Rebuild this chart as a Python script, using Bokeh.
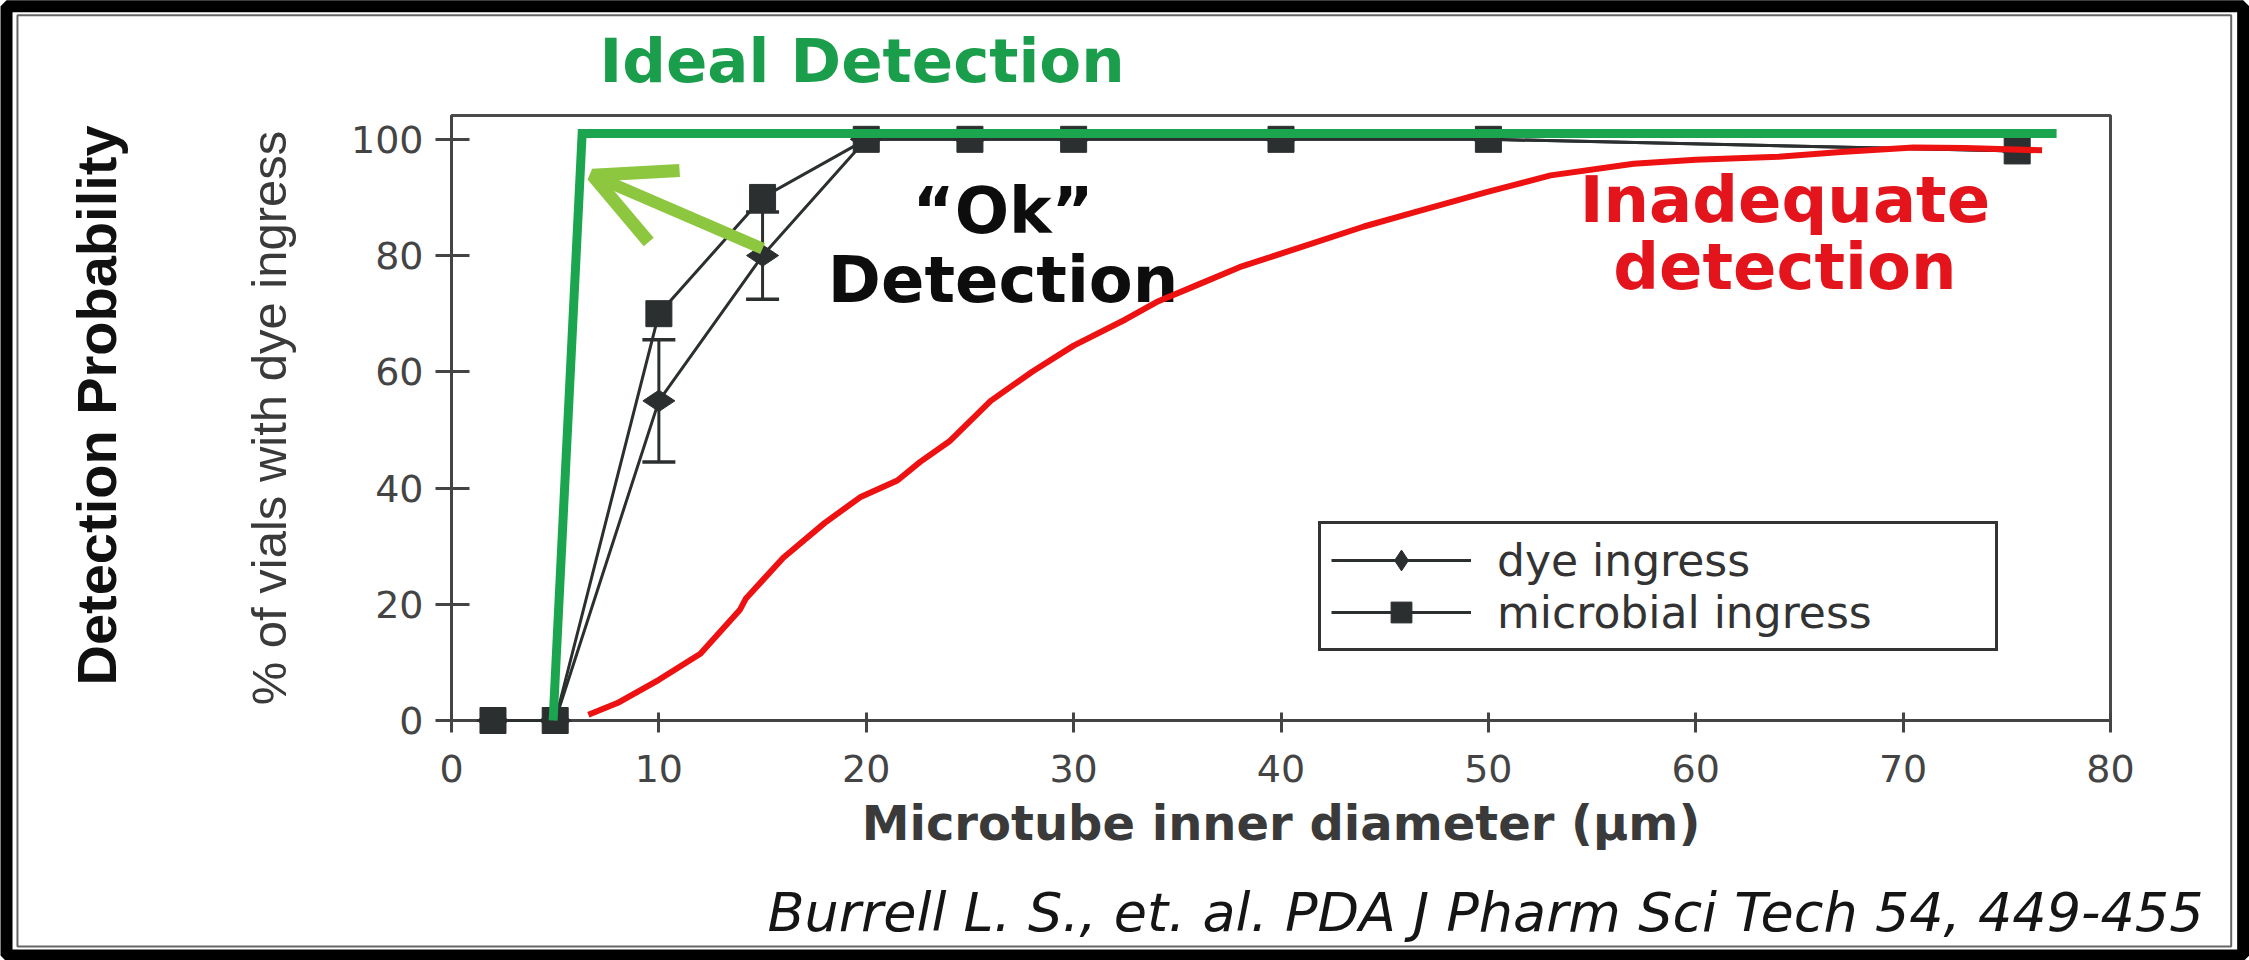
import math
from bokeh.plotting import figure
from bokeh.models import (ColumnDataSource, Label, Arrow, OpenHead, Whisker, TeeHead,
                          FixedTicker, Legend, LegendItem)
from bokeh.core.properties import value
from bokeh.embed import file_html
from bokeh.resources import INLINE

# ---------------- data ----------------
dye_x = [2, 5, 10, 15, 20, 25, 30, 40, 50, 75.5]
dye_y = [0, 0, 55, 80, 100, 100, 100, 100, 100, 98]
dye_err_x = [10, 15]
dye_err_low = [44.5, 72.5]
dye_err_high = [65.5, 87.5]

mic_x = [2, 5, 10, 15, 20, 25, 30, 40, 50, 75.5]
mic_y = [0, 0, 70, 90, 100, 100, 100, 100, 100, 98]

ideal_x = [4.9, 6.3, 77.4]
ideal_y = [0, 101, 101]

inadequate_x = [6.6, 8, 10, 12, 13.9, 14.2, 16, 18, 19.7, 21.5, 22.6, 24, 26, 28, 30,
                32.5, 34, 36, 38, 41, 44, 46.5, 50, 53, 57, 60, 64, 67, 70.5, 73, 76.7]
inadequate_y = [1, 3, 7, 11.5, 19, 21, 28, 34, 38.4, 41.3, 44.5, 48, 55, 60, 64.5,
                69, 72, 75, 78, 81.5, 85, 87.5, 91, 93.8, 95.8, 96.5, 97, 97.8, 98.6, 98.5, 98.1]

x_ticks = [0, 10, 20, 30, 40, 50, 60, 70, 80]
y_ticks = [0, 20, 40, 60, 80, 100]

# ---------------- figure ----------------
p = figure(width=2249, height=960, x_range=(0, 80), y_range=(0, 104.1),
           output_backend="svg", toolbar_location=None,
           min_border_left=451, min_border_right=139,
           min_border_top=115, min_border_bottom=240)
p.background_fill_color = "white"
p.border_fill_color = "white"
p.outline_line_color = "#4a4a4a"
p.outline_line_width = 3
p.xgrid.visible = False
p.ygrid.visible = False

AX = "#444444"
for ax in (p.xaxis, p.yaxis):
    ax.axis_line_color = AX
    ax.axis_line_width = 3
    ax.major_tick_line_color = AX
    ax.major_tick_line_width = 3
    ax.minor_tick_line_color = None
    ax.major_label_text_font = "DejaVu Sans"
    ax.major_label_text_font_size = "38px"
    ax.major_label_text_color = AX
    ax.axis_label_text_color = "#3a3a3a"

p.xaxis.ticker = FixedTicker(ticks=x_ticks)
p.yaxis.ticker = FixedTicker(ticks=y_ticks)
p.xaxis.major_tick_in = 8
p.xaxis.major_tick_out = 12
p.xaxis.major_label_standoff = 22
p.yaxis.major_tick_in = 18
p.yaxis.major_tick_out = 16
p.yaxis.major_label_standoff = 12

p.xaxis.axis_label = "Microtube inner diameter (µm)"
p.xaxis.axis_label_text_font = "DejaVu Sans"
p.xaxis.axis_label_text_font_style = "bold"
p.xaxis.axis_label_text_font_size = "48px"
p.xaxis.axis_label_standoff = 10

p.yaxis.axis_label = "% of vials with dye ingress"
p.yaxis.axis_label_text_font = "Liberation Sans"
p.yaxis.axis_label_text_font_style = "normal"
p.yaxis.axis_label_text_font_size = "49px"
p.yaxis.axis_label_standoff = 52

SER = "#2b2f2f"
dye_line = p.line(dye_x, dye_y, line_color=SER, line_width=3, level="overlay")
mic_line = p.line(mic_x, mic_y, line_color=SER, line_width=3, level="overlay")

whisk_src = ColumnDataSource(dict(base=dye_err_x, lower=dye_err_low, upper=dye_err_high))
p.add_layout(Whisker(base="base", lower="lower", upper="upper", source=whisk_src,
                     line_color=SER, line_width=3,
                     upper_head=TeeHead(size=33, line_color=SER, line_width=3.5),
                     lower_head=TeeHead(size=33, line_color=SER, line_width=3.5)))

dye_pts = p.scatter(dye_x, dye_y, marker="diamond", angle=math.pi / 2, size=32,
                    fill_color=SER, line_color=SER, level="overlay")
mic_pts = p.scatter(mic_x, mic_y, marker="square", size=26,
                    fill_color=SER, line_color=SER, level="overlay")

p.line(inadequate_x, inadequate_y, line_color="#EE1111", line_width=6, level="overlay")
p.line(ideal_x, ideal_y, line_color="#1CA54F", line_width=9, line_join="miter", level="overlay")

arrow = Arrow(x_start=15.0, y_start=81.2, x_end=6.8, y_end=93.8,
              line_color="#8DC63F", line_width=12,
              end=OpenHead(size=78, line_color="#8DC63F", line_width=13))
arrow.level = "overlay"
p.add_layout(arrow)

legend = Legend(items=[LegendItem(label="dye ingress", renderers=[dye_line, dye_pts]),
                       LegendItem(label="microbial ingress", renderers=[mic_line, mic_pts])],
                location=(867, 69))
legend.label_text_font = "DejaVu Sans"
legend.label_text_font_size = "44px"
legend.label_text_color = "#333333"
legend.border_line_color = "#333333"
legend.border_line_alpha = 1
legend.border_line_width = 3
legend.background_fill_color = "white"
legend.background_fill_alpha = 1
legend.padding = 10
legend.spacing = 0
legend.margin = 0
legend.glyph_width = 140
legend.glyph_height = 52
legend.label_standoff = 26
legend.label_width = 488
p.add_layout(legend)

# ---------------- texts inside the frame ----------------
def lab(x, y, text, **kw):
    p.add_layout(Label(x=x, y=y, text=text, text_align="center", text_baseline="middle",
                       text_font="DejaVu Sans", text_font_style="bold", **kw))

lab(26.6, 87.7, "\u201cOk\u201d", text_font_size="64px", text_color="#0d0d0d")
lab(26.6, 75.8, "Detection", text_font_size="64px", text_color="#0d0d0d")
lab(64.3, 89.6, "Inadequate", text_font_size="64px", text_color="#E3141C")
lab(64.3, 78.1, "detection", text_font_size="64px", text_color="#E3141C")

# ---------------- texts outside the frame (overlay glyphs, not clipped) ----------------
p.text(x=[7.14], y=[113.6], text=["Ideal Detection"], text_font=value("DejaVu Sans"),
       text_font_style="bold", text_font_size="61px", text_color="#1A9E4B",
       text_align="left", text_baseline="middle", level="overlay")
p.text(x=[-17.1], y=[54.2], text=["Detection Probability"], angle=math.pi / 2,
       text_font=value("Liberation Sans"), text_font_style="bold", text_font_size="56px",
       text_color="#111111", text_align="center", text_baseline="middle", level="overlay")
p.text(x=[15.24], y=[-33.1], text=["Burrell L. S., et. al. PDA J Pharm Sci Tech 54, 449-455"],
       text_font=value("DejaVu Sans"), text_font_style="italic", text_font_size="54px",
       text_color="#151515", text_align="left", text_baseline="middle", level="overlay")

# ---------------- outer border ----------------
p.rect(x=[32.47], y=[41.22], width=[107.856], height=[163.34], fill_color=None,
       line_color="black", line_width=12, level="overlay")
p.rect(x=[32.445], y=[41.22], width=[106.75], height=[160.24], fill_color=None,
       line_color="#666666", line_width=2, level="overlay")

open("out.html", "w").write(file_html(p, INLINE))
